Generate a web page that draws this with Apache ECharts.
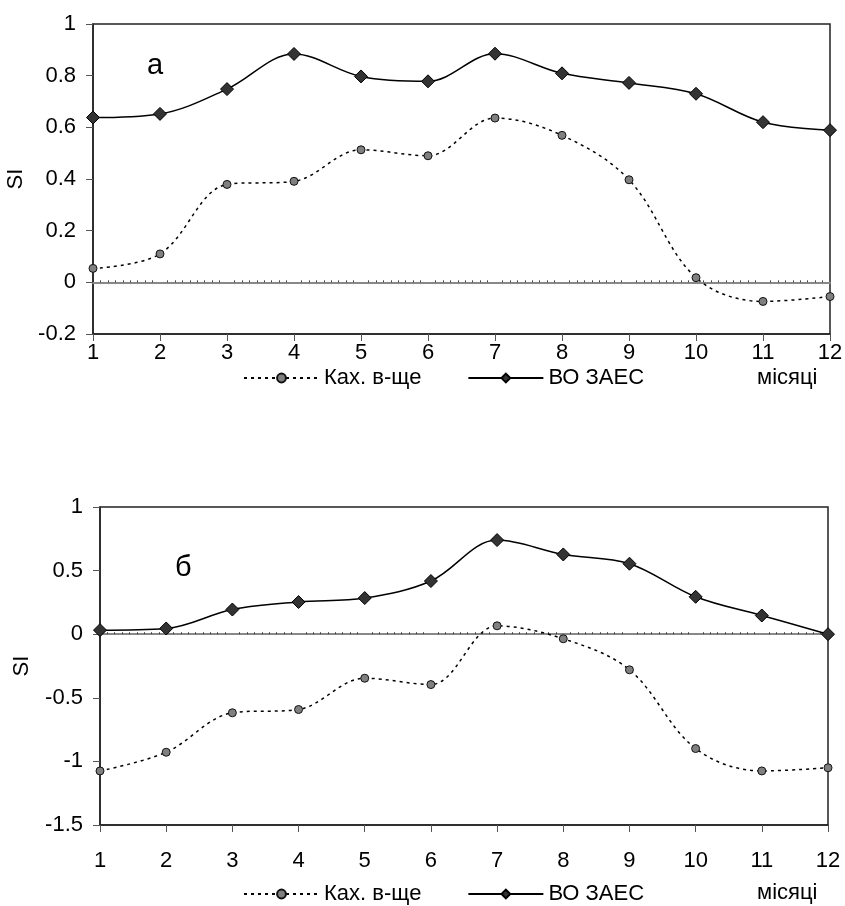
<!DOCTYPE html>
<html><head><meta charset="utf-8">
<script src="https://cdn.jsdelivr.net/npm/echarts@6/dist/echarts.min.js"></script>
<style>html,body{margin:0;padding:0;background:#fff}#c{width:845px;height:906px}</style>
</head><body><div id="c"></div>
<script>
const months = ['1','2','3','4','5','6','7','8','9','10','11','12'];
const nameKax = 'Ках. в-ще';
const nameZaes = 'ВО ЗАЕС';
const kaxA  = [0.054, 0.11, 0.379, 0.391, 0.513, 0.49, 0.636, 0.569, 0.397, 0.018, -0.074, -0.055];
const zaesA = [0.638, 0.652, 0.748, 0.884, 0.797, 0.778, 0.885, 0.809, 0.772, 0.730, 0.62, 0.589];
const kaxB  = [-1.075, -0.928, -0.618, -0.592, -0.346, -0.396, 0.066, -0.036, -0.28, -0.899, -1.075, -1.05];
const zaesB = [0.032, 0.045, 0.194, 0.253, 0.284, 0.418, 0.74, 0.627, 0.554, 0.294, 0.147, 0.0];
const yTicksA = {min: -0.2, max: 1, interval: 0.2};
const yTicksB = {min: -1.5, max: 1, interval: 0.5};

const FONT = 'Liberation Sans, Arial, sans-serif';
const FS = 22;
const chart = echarts.init(document.getElementById('c'), null, {renderer: 'canvas'});

function catAxis(gi, margin) {
  return {
    type: 'category', gridIndex: gi, data: months, boundaryGap: false,
    axisLine: {onZero: false, lineStyle: {color: '#222', width: 1.5}},
    axisTick: {show: true, alignWithLabel: true, length: 7, lineStyle: {color: '#555'}},
    axisLabel: {color: '#000', fontSize: FS, fontFamily: FONT, margin: margin},
    splitLine: {show: false}
  };
}
function zeroAxis(gi) {
  return {
    type: 'value', gridIndex: gi, min: 1, max: 12, interval: 1,
    axisLine: {show: true, onZero: true, lineStyle: {color: '#888', width: 2}},
    axisTick: {show: false},
    minorTick: {show: true, splitNumber: 9, length: 2, lineStyle: {color: '#444', width: 1}},
    axisLabel: {show: false}, splitLine: {show: false}
  };
}
function valAxis(gi, t, gap) {
  return {
    type: 'value', gridIndex: gi, min: t.min, max: t.max, interval: t.interval,
    name: 'SI', nameLocation: 'middle', nameGap: gap, nameRotate: 90,
    nameTextStyle: {color: '#000', fontSize: FS, fontFamily: FONT},
    axisLine: {show: true, lineStyle: {color: '#222', width: 1.5}},
    axisTick: {show: true, length: 7, lineStyle: {color: '#555'}},
    axisLabel: {color: '#000', fontSize: FS, fontFamily: FONT, margin: 17},
    splitLine: {show: false}
  };
}
function kaxSeries(gi, data) {
  return {
    name: nameKax, type: 'line', xAxisIndex: gi * 2, yAxisIndex: gi, data: data,
    smooth: 0.35, symbol: 'circle', symbolSize: 8,
    lineStyle: {color: '#000', width: 1.5, type: [3, 4]},
    itemStyle: {color: '#808080', borderColor: '#111', borderWidth: 1},
    z: 3
  };
}
function zaesSeries(gi, data) {
  return {
    name: nameZaes, type: 'line', xAxisIndex: gi * 2, yAxisIndex: gi, data: data,
    smooth: 0.35, symbol: 'diamond', symbolSize: 13,
    lineStyle: {color: '#000', width: 1.5, type: 'solid'},
    itemStyle: {color: '#333', borderColor: '#000', borderWidth: 1},
    z: 4
  };
}
function legend(top) {
  return {
    left: 243, top: top, orient: 'horizontal', itemWidth: 75, itemHeight: 11, itemGap: 46,
    padding: 0, data: [nameKax, nameZaes], selectedMode: false,
    textStyle: {color: '#000', fontSize: FS, fontFamily: FONT, padding: [0, 0, 0, 0]}
  };
}

chart.setOption({
  animation: false,
  backgroundColor: '#fff',
  grid: [
    {left: 93, right: 15, top: 24, height: 310, show: true, borderColor: '#222', borderWidth: 1.5, backgroundColor: 'transparent', outerBoundsMode: 'none', containLabel: false},
    {left: 100, right: 17, top: 507, height: 318, show: true, borderColor: '#222', borderWidth: 1.5, backgroundColor: 'transparent', outerBoundsMode: 'none', containLabel: false}
  ],
  xAxis: [catAxis(0, 8), zeroAxis(0), catAxis(1, 25), zeroAxis(1)],
  yAxis: [valAxis(0, yTicksA, 60), valAxis(1, yTicksB, 67)],
  legend: [legend(367), legend(883)],
  series: [kaxSeries(0, kaxA), zaesSeries(0, zaesA), kaxSeries(1, kaxB), zaesSeries(1, zaesB)],
  graphic: [
    {type: 'text', left: 147, top: 51, style: {text: 'а', fontSize: 29, fontFamily: FONT, fill: '#000'}},
    {type: 'text', left: 175, top: 553, style: {text: 'б', fontSize: 29, fontFamily: FONT, fill: '#000'}},
    {type: 'text', left: 757, top: 367, style: {text: 'місяці', fontSize: FS, fontFamily: FONT, fill: '#000'}},
    {type: 'text', left: 757, top: 882, style: {text: 'місяці', fontSize: FS, fontFamily: FONT, fill: '#000'}}
  ]
});
</script></body></html>
